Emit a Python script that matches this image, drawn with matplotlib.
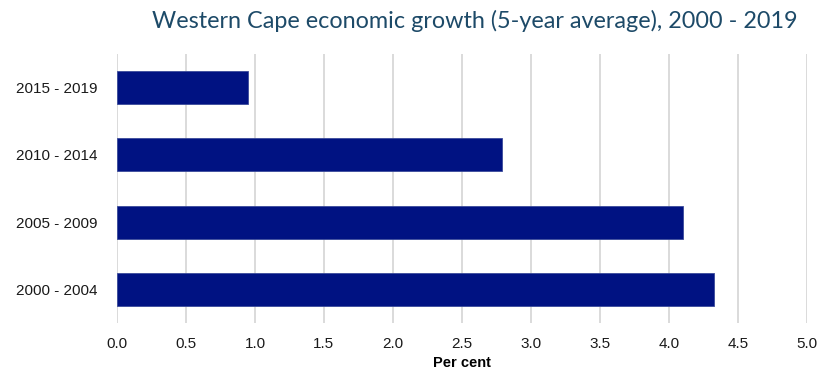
import matplotlib.pyplot as plt
import numpy as np

periods = ['2000 - 2004', '2005 - 2009', '2010 - 2014', '2015 - 2019']
growth = [4.33, 4.10, 2.79, 0.95]
xticks = [0.0, 0.5, 1.0, 1.5, 2.0, 2.5, 3.0, 3.5, 4.0, 4.5, 5.0]

fig = plt.figure(figsize=(8.2, 3.74), dpi=100)
ax = fig.add_axes([0.1427, 0.1364, 0.8411, 0.7192])

y = np.arange(len(periods))
ax.barh(y, growth, height=0.49, color='#001282', edgecolor='#3a4a9a', linewidth=0.6, zorder=3)

ax.set_xlim(0, 5.0)
ax.set_ylim(-0.5, 3.5)
ax.set_yticks(y)
ax.set_yticklabels(periods, fontsize=11, family='Liberation Sans', color='#1a1a1a')
ax.set_xticks(xticks)
ax.set_xticklabels(['%.1f' % v for v in xticks], fontsize=11, family='Liberation Sans', color='#1a1a1a')
ax.tick_params(length=0, pad=10)
ax.tick_params(axis='y', pad=14)
ax.grid(axis='x', color='#d4d4d4', linewidth=1.2, zorder=0)
for s in ax.spines.values():
    s.set_visible(False)
ax.set_xlabel('Per cent', fontsize=10.5, family='Liberation Sans', fontweight='bold', labelpad=4)

fig.text(0.579, 0.945, 'Western Cape economic growth (5-year average), 2000 - 2019',
         ha='center', va='center', fontsize=16.8, family='Lato', color='#1d4a68')

fig.savefig('out.png', dpi=100)
